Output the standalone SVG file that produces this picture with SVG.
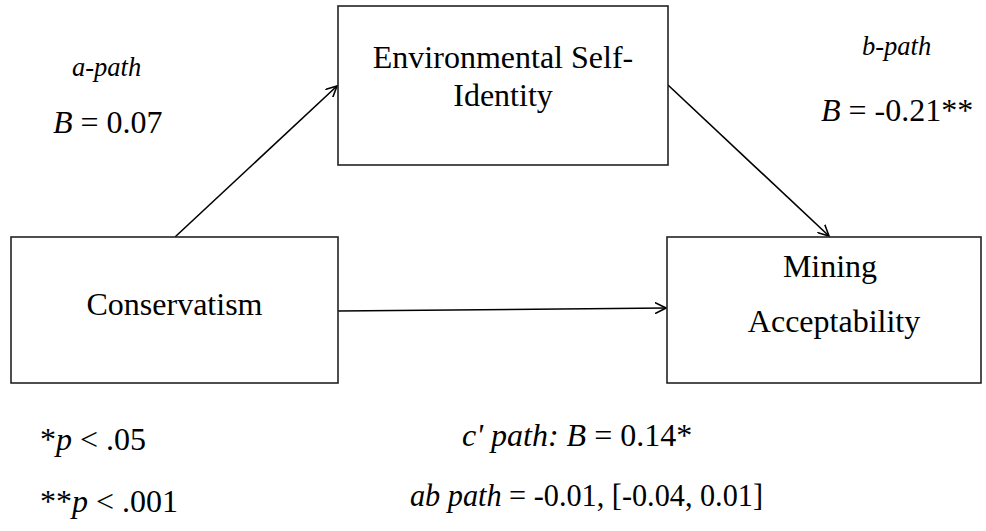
<svg xmlns="http://www.w3.org/2000/svg" width="986" height="531" viewBox="0 0 986 531">
<style>
.box{fill:#fff;stroke:#222;stroke-width:1.6}
.t{font-family:"Liberation Serif","Times New Roman",serif;fill:#000;font-size:32px}
.m{text-anchor:middle}
.i{font-style:italic}
.s{font-size:26.5px}
.edge{stroke:#000;stroke-width:1.6;fill:none;marker-end:url(#ah)}
</style>
<defs>
<marker id="ah" viewBox="0 0 12 12" refX="11" refY="6" markerWidth="12" markerHeight="12" markerUnits="userSpaceOnUse" orient="auto">
<path d="M0,0.5 L11,6 L0,11.5" fill="none" stroke="#000" stroke-width="1.6"/>
</marker>
</defs>
<rect width="986" height="531" fill="#fff"/>
<g id="connectors">
<line class="edge" x1="175" y1="237" x2="337" y2="86"/>
<line class="edge" x1="668" y1="85" x2="829" y2="236"/>
<line class="edge" x1="338" y1="311" x2="666" y2="308"/>
</g>
<g id="esi">
<rect class="box" x="338" y="6" width="330" height="159"/>
<text class="t m" x="503" y="68">Environmental Self-</text>
<text class="t m" x="503" y="106">Identity</text>
</g>
<g id="conservatism">
<rect class="box" x="11" y="237" width="327" height="146"/>
<text class="t m" x="174.5" y="315">Conservatism</text>
</g>
<g id="mining">
<rect class="box" x="667" y="237" width="314" height="146"/>
<text class="t m" x="830" y="277">Mining</text>
<text class="t m" x="834" y="332">Acceptability</text>
</g>
<g id="labels">
<text class="t s i" x="72" y="76">a-path</text>
<text class="t" x="53" y="133"><tspan class="i">B</tspan> = 0.07</text>
<text class="t s i" x="862" y="55">b-path</text>
<text class="t" x="821" y="121"><tspan class="i">B</tspan> = -0.21**</text>
<text class="t" x="40" y="450">*<tspan class="i">p</tspan> &lt; .05</text>
<text class="t" x="40" y="512">**<tspan class="i">p</tspan> &lt; .001</text>
<text class="t" x="462" y="446"><tspan class="i">c' path: B</tspan> = 0.14*</text>
<text class="t" x="410" y="506" textLength="353" lengthAdjust="spacingAndGlyphs"><tspan class="i">ab path</tspan> = -0.01, [-0.04, 0.01]</text>
</g>
</svg>
